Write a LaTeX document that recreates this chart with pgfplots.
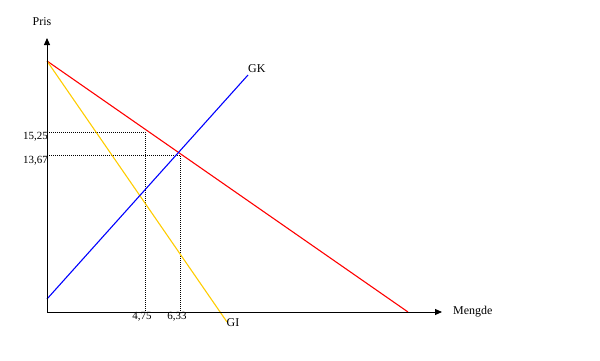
\documentclass[border=0pt]{standalone}
\usepackage{pgfplots}
\pgfplotsset{compat=1.18}
\usetikzlibrary{arrows.meta}
\usepackage{fontspec}
\setmainfont{Liberation Serif}
\definecolor{gold}{RGB}{255,204,0}
\tikzset{lbl/.style={font=\fontsize{12}{14}\selectfont},num/.style={font=\fontsize{11}{13}\selectfont}}
\begin{document}
\begin{tikzpicture}
\begin{axis}[width=600bp,height=360bp,scale only axis,
  xmin=-47,xmax=553,ymin=-48,ymax=312,hide axis,clip=false]
\addplot[draw=none] coordinates {(-47,-48) (553,312)};
\addplot[black,line width=0.7pt,dash pattern=on 1bp off 1bp] coordinates {(0,180) (98,180) (98,0)};
\addplot[black,line width=0.7pt,dash pattern=on 1bp off 1bp] coordinates {(0,157) (133,157) (133,0)};
\addplot[red,line width=1.1pt] coordinates {(0,251) (361,0)};
\addplot[gold,line width=1.1pt] coordinates {(0,251) (180,-10)};
\addplot[blue,line width=1.1pt] coordinates {(0,13) (201,237)};
\addplot[black,line width=0.9pt,-{Triangle[length=7bp,width=6bp]}] coordinates {(0,0) (395,0)};
\addplot[black,line width=0.9pt,-{Triangle[length=7bp,width=6bp]}] coordinates {(0,0) (0,274)};
\node[lbl] at (axis cs:-5,290) {Pris};
\node[lbl,anchor=west,inner sep=0pt] at (axis cs:406,0) {Mengde};
\node[lbl,anchor=west,inner sep=0pt] at (axis cs:201,243) {GK};
\node[lbl] at (axis cs:186,-11) {GI};
\node[num,anchor=east,inner sep=0pt] at (axis cs:1,175.5) {15,25};
\node[num,anchor=east,inner sep=0pt] at (axis cs:1,151) {13,67};
\node[num] at (axis cs:95,-5) {4,75};
\node[num] at (axis cs:130,-5) {6,33};
\end{axis}
\end{tikzpicture}
\end{document}
